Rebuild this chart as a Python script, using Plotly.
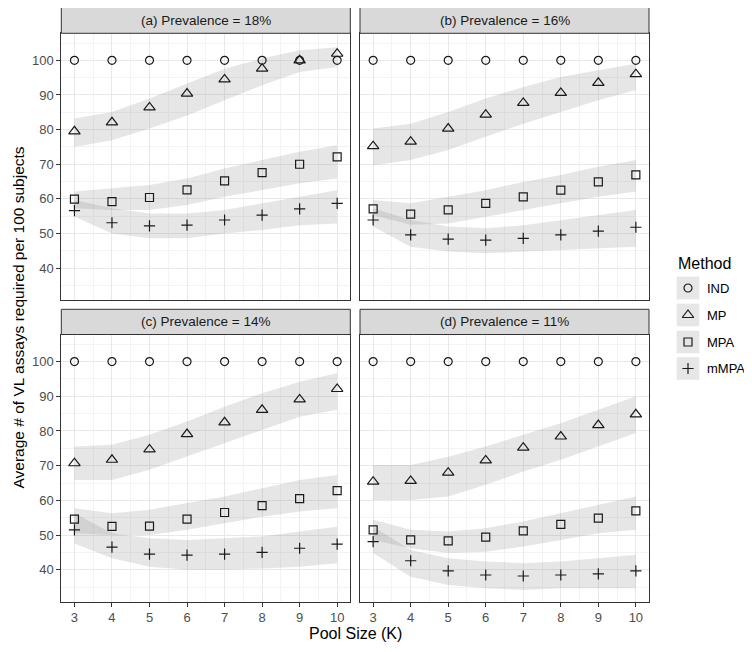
import plotly.graph_objects as go

K = [3, 4, 5, 6, 7, 8, 9, 10]
methods = ["IND", "MP", "MPA", "mMPA"]
panel_titles = ["(a) Prevalence = 18%", "(b) Prevalence = 16%",
                "(c) Prevalence = 14%", "(d) Prevalence = 11%"]
y_ticks = [40, 50, 60, 70, 80, 90, 100]
x_title = "Pool Size (K)"
y_title = "Average # of VL assays required per 100 subjects"
legend_title = "Method"

# ---- Panel (a) ----
a_IND = [100, 100, 100, 100, 100, 100, 100, 100]
a_MP = [79.5, 82.1, 86.4, 90.4, 94.5, 97.6, 100.0, 101.9]
a_MPA = [59.9, 59.2, 60.4, 62.6, 65.2, 67.6, 70.0, 72.1]
a_mMPA = [56.6, 53.1, 52.2, 52.4, 53.9, 55.3, 57.1, 58.7]
a_MP_lo = [75.0, 76.9, 80.3, 84.1, 88.5, 92.8, 96.6, 98.1]
a_MP_hi = [83.2, 85.1, 89.0, 93.3, 97.6, 100.5, 102.9, 103.8]
a_MPA_lo = [57.3, 56.8, 56.8, 58.2, 60.6, 62.5, 64.5, 65.9]
a_MPA_hi = [62.1, 63.0, 64.0, 65.9, 68.8, 71.2, 73.6, 75.5]
a_mMPA_lo = [54.9, 50.0, 48.6, 48.6, 50.0, 51.0, 52.4, 52.9]
a_mMPA_hi = [59.7, 57.3, 55.8, 55.8, 56.8, 58.7, 60.6, 62.5]

# ---- Panel (b) ----
b_IND = [100, 100, 100, 100, 100, 100, 100, 100]
b_MP = [75.2, 76.5, 80.3, 84.3, 87.7, 90.6, 93.5, 96.0]
b_MPA = [57.1, 55.6, 56.8, 58.7, 60.6, 62.5, 64.9, 66.9]
b_mMPA = [53.9, 49.6, 48.4, 48.1, 48.6, 49.6, 50.7, 51.8]
b_MP_lo = [69.7, 71.2, 74.1, 77.9, 81.7, 85.1, 88.5, 91.4]
b_MP_hi = [80.3, 81.7, 85.1, 89.0, 92.3, 95.2, 97.1, 99.0]
b_MPA_lo = [55.3, 52.5, 52.9, 54.9, 56.8, 58.7, 60.6, 62.1]
b_MPA_hi = [59.7, 58.7, 60.6, 62.5, 64.9, 66.9, 69.3, 71.2]
b_mMPA_lo = [52.0, 46.2, 44.8, 44.3, 44.8, 45.2, 45.7, 46.2]
b_mMPA_hi = [57.3, 53.9, 52.0, 51.5, 52.4, 53.9, 55.3, 56.8]

# ---- Panel (c) ----
c_IND = [100, 100, 100, 100, 100, 100, 100, 100]
c_MP = [70.7, 71.7, 74.7, 79.1, 82.5, 86.1, 89.1, 92.1]
c_MPA = [54.6, 52.5, 52.6, 54.6, 56.5, 58.5, 60.5, 62.8]
c_mMPA = [51.5, 46.5, 44.5, 44.2, 44.5, 45.0, 46.2, 47.4]
c_MP_lo = [65.9, 65.9, 68.8, 72.6, 76.5, 80.3, 84.1, 86.1]
c_MP_hi = [75.5, 76.0, 78.9, 82.7, 87.0, 90.9, 94.2, 96.6]
c_MPA_lo = [50.5, 50.0, 50.0, 51.5, 53.4, 55.3, 56.8, 57.7]
c_MPA_hi = [57.7, 56.3, 57.3, 59.2, 61.1, 63.5, 65.9, 67.3]
c_mMPA_lo = [47.6, 43.3, 40.9, 40.0, 40.0, 40.4, 40.9, 41.9]
c_mMPA_hi = [56.3, 50.5, 49.1, 48.6, 49.1, 49.6, 51.0, 52.4]

# ---- Panel (d) ----
d_IND = [100, 100, 100, 100, 100, 100, 100, 100]
d_MP = [65.4, 65.6, 68.0, 71.5, 75.2, 78.4, 81.7, 84.8]
d_MPA = [51.5, 48.6, 48.3, 49.4, 51.2, 53.1, 54.9, 57.0]
d_mMPA = [48.1, 42.6, 39.7, 38.5, 38.2, 38.5, 38.8, 39.7]
d_MP_lo = [60.1, 60.1, 61.1, 64.5, 68.3, 71.7, 75.5, 79.4]
d_MP_hi = [70.2, 70.2, 72.6, 75.5, 78.9, 82.2, 86.1, 90.0]
d_MPA_lo = [48.6, 46.2, 44.8, 45.2, 46.7, 48.6, 50.5, 51.5]
d_MPA_hi = [54.4, 51.5, 51.0, 52.0, 53.9, 56.3, 58.7, 61.1]
d_mMPA_lo = [44.8, 38.0, 35.6, 34.7, 34.2, 34.7, 34.7, 34.7]
d_mMPA_hi = [52.4, 45.7, 43.3, 42.4, 41.9, 42.4, 43.3, 44.3]

panels = [
    {"IND": a_IND, "MP": a_MP, "MPA": a_MPA, "mMPA": a_mMPA,
     "bands": {"MP": (a_MP_lo, a_MP_hi), "MPA": (a_MPA_lo, a_MPA_hi), "mMPA": (a_mMPA_lo, a_mMPA_hi)}},
    {"IND": b_IND, "MP": b_MP, "MPA": b_MPA, "mMPA": b_mMPA,
     "bands": {"MP": (b_MP_lo, b_MP_hi), "MPA": (b_MPA_lo, b_MPA_hi), "mMPA": (b_mMPA_lo, b_mMPA_hi)}},
    {"IND": c_IND, "MP": c_MP, "MPA": c_MPA, "mMPA": c_mMPA,
     "bands": {"MP": (c_MP_lo, c_MP_hi), "MPA": (c_MPA_lo, c_MPA_hi), "mMPA": (c_mMPA_lo, c_mMPA_hi)}},
    {"IND": d_IND, "MP": d_MP, "MPA": d_MPA, "mMPA": d_mMPA,
     "bands": {"MP": (d_MP_lo, d_MP_hi), "MPA": (d_MPA_lo, d_MPA_hi), "mMPA": (d_mMPA_lo, d_mMPA_hi)}},
]

symbols = {"IND": ("circle-open", 8), "MP": ("triangle-up-open", 10),
           "MPA": ("square-open", 8), "mMPA": ("cross-thin-open", 8)}

# The page body has an 8px margin; the figure fills the rest of the window.
OFF = 8
W, H = 752 - OFF, 652 - OFF
FONT = "Liberation Sans, Arial, Helvetica, sans-serif"
INK = "#1a1a1a"
BAND = "rgba(128,128,128,0.2)"
MLW = 1.2

# pixel layout (window coordinates)
col_px = [(61.3, 350.3), (360.0, 649.0)]
row_px = [(33.3, 300.0), (334.5, 601.7)]      # plot area top, bottom
strip_px = [(7.3, 33.3), (309.3, 334.5)]

def px_x(v):
    return (v - OFF) / W

def px_y(v):
    return 1 - (v - OFF) / H

fig = go.Figure()

for i, p in enumerate(panels):
    xa = "x" if i == 0 else f"x{i+1}"
    ya = "y" if i == 0 else f"y{i+1}"
    for m in ["MP", "MPA", "mMPA"]:
        lo, hi = p["bands"][m]
        fig.add_trace(go.Scatter(
            x=K + K[::-1], y=hi + lo[::-1], fill="toself",
            fillcolor=BAND, line=dict(width=0),
            mode="lines", hoverinfo="skip", showlegend=False,
            xaxis=xa, yaxis=ya))
    for m in methods:
        sym, size = symbols[m]
        fig.add_trace(go.Scatter(
            x=K, y=p[m], mode="markers", name=m,
            marker=dict(symbol=sym, size=size, color=INK,
                        line=dict(color=INK, width=MLW)),
            showlegend=False, xaxis=xa, yaxis=ya))

x_minor = [3.5, 4.5, 5.5, 6.5, 7.5, 8.5, 9.5]
y_minor = [35, 45, 55, 65, 75, 85, 95, 105]

layout_axes = {}
for i in range(4):
    r, c = divmod(i, 2)
    xk = "xaxis" if i == 0 else f"xaxis{i+1}"
    yk = "yaxis" if i == 0 else f"yaxis{i+1}"
    ya_ref = "y" if i == 0 else f"y{i+1}"
    xa_ref = "x" if i == 0 else f"x{i+1}"
    bottom = (r == 1)
    left = (c == 0)
    layout_axes[xk] = dict(
        domain=[px_x(col_px[c][0]), px_x(col_px[c][1])],
        range=[2.65, 10.35], anchor=ya_ref,
        tickmode="array", tickvals=K, ticktext=[str(k) for k in K],
        showticklabels=bottom, ticks="outside" if bottom else "",
        ticklen=4, tickwidth=1, tickcolor="#333333",
        tickfont=dict(size=13, color="#4d4d4d", family=FONT),
        showgrid=True, gridcolor="#e8e8e8", gridwidth=1,
        minor=dict(tickmode="array", tickvals=x_minor, showgrid=True,
                   gridcolor="#f3f3f3", gridwidth=1, ticks=""),
        showline=True, mirror=True, linecolor="#333333", linewidth=1,
        zeroline=False, fixedrange=True)
    layout_axes[yk] = dict(
        domain=[px_y(row_px[r][1]), px_y(row_px[r][0])],
        range=[30.8, 107.8], anchor=xa_ref,
        tickmode="array", tickvals=y_ticks, ticktext=[str(v) for v in y_ticks],
        showticklabels=left, ticks="outside" if left else "",
        ticklen=4, tickwidth=1, tickcolor="#333333",
        tickfont=dict(size=13, color="#4d4d4d", family=FONT),
        showgrid=True, gridcolor="#e8e8e8", gridwidth=1,
        minor=dict(tickmode="array", tickvals=y_minor, showgrid=True,
                   gridcolor="#f3f3f3", gridwidth=1, ticks=""),
        showline=True, mirror=True, linecolor="#333333", linewidth=1,
        zeroline=False, fixedrange=True)

# legend drawn on a hidden helper axis measured in window pixels
LEG_X0, LEG_X1, LEG_Y0, LEG_Y1 = 652, 752, 245, 395
layout_axes["xaxis5"] = dict(domain=[px_x(LEG_X0), min(1.0, px_x(LEG_X1))],
                             range=[LEG_X0, LEG_X1], anchor="y5", visible=False,
                             fixedrange=True)
layout_axes["yaxis5"] = dict(domain=[px_y(LEG_Y1), px_y(LEG_Y0)],
                             range=[LEG_Y1, LEG_Y0], anchor="x5", visible=False,
                             fixedrange=True)

legend_y = [288.0, 315.0, 342.0, 368.5]
key_x = 688.0
key_half = 11.3

shapes = []
annotations = []
for i in range(4):
    r, c = divmod(i, 2)
    shapes.append(dict(type="rect", xref="paper", yref="paper",
                       x0=px_x(col_px[c][0]), x1=px_x(col_px[c][1]),
                       y0=px_y(strip_px[r][1]), y1=px_y(strip_px[r][0]),
                       fillcolor="#d9d9d9", line=dict(color="#333333", width=1)))
    annotations.append(dict(text=panel_titles[i], xref="paper", yref="paper",
                            x=px_x((col_px[c][0] + col_px[c][1]) / 2),
                            y=px_y((strip_px[r][0] + strip_px[r][1]) / 2),
                            xanchor="center", yanchor="middle", showarrow=False,
                            font=dict(size=13.5, color=INK, family=FONT)))

for m, ly in zip(methods, legend_y):
    shapes.append(dict(type="rect", xref="x5", yref="y5", layer="below",
                       x0=key_x - key_half, x1=key_x + key_half,
                       y0=ly - key_half, y1=ly + key_half,
                       fillcolor=BAND, line=dict(width=0)))
    sym, size = symbols[m]
    fig.add_trace(go.Scatter(
        x=[key_x], y=[ly], mode="markers", name=m,
        marker=dict(symbol=sym, size=size, color=INK,
                    line=dict(color=INK, width=MLW)),
        showlegend=False, hoverinfo="skip", xaxis="x5", yaxis="y5"))
    annotations.append(dict(text=m, xref="x5", yref="y5", x=705, y=ly,
                            xanchor="left", yanchor="middle", showarrow=False,
                            font=dict(size=13, color="#000000", family=FONT)))

annotations.append(dict(text=legend_title, xref="x5", yref="y5", x=676, y=263,
                        xanchor="left", yanchor="middle", showarrow=False,
                        font=dict(size=16, color="#000000", family=FONT)))

annotations.append(dict(text=x_title, xref="paper", yref="paper",
                        x=px_x((col_px[0][0] + col_px[1][1]) / 2), y=px_y(633),
                        xanchor="center", yanchor="middle", showarrow=False,
                        font=dict(size=16, color="#000000", family=FONT)))
annotations.append(dict(text=y_title, xref="paper", yref="paper",
                        x=px_x(18), y=px_y((row_px[0][0] + row_px[1][1]) / 2),
                        xanchor="center", yanchor="middle", showarrow=False,
                        textangle=-90,
                        font=dict(size=15.5, color="#000000", family=FONT)))

fig.update_layout(
    width=W, height=H,
    margin=dict(l=0, r=0, t=0, b=0),
    paper_bgcolor="white", plot_bgcolor="white",
    font=dict(family=FONT),
    showlegend=False,
    shapes=shapes, annotations=annotations,
    **layout_axes,
)

fig.write_html("out.html")
